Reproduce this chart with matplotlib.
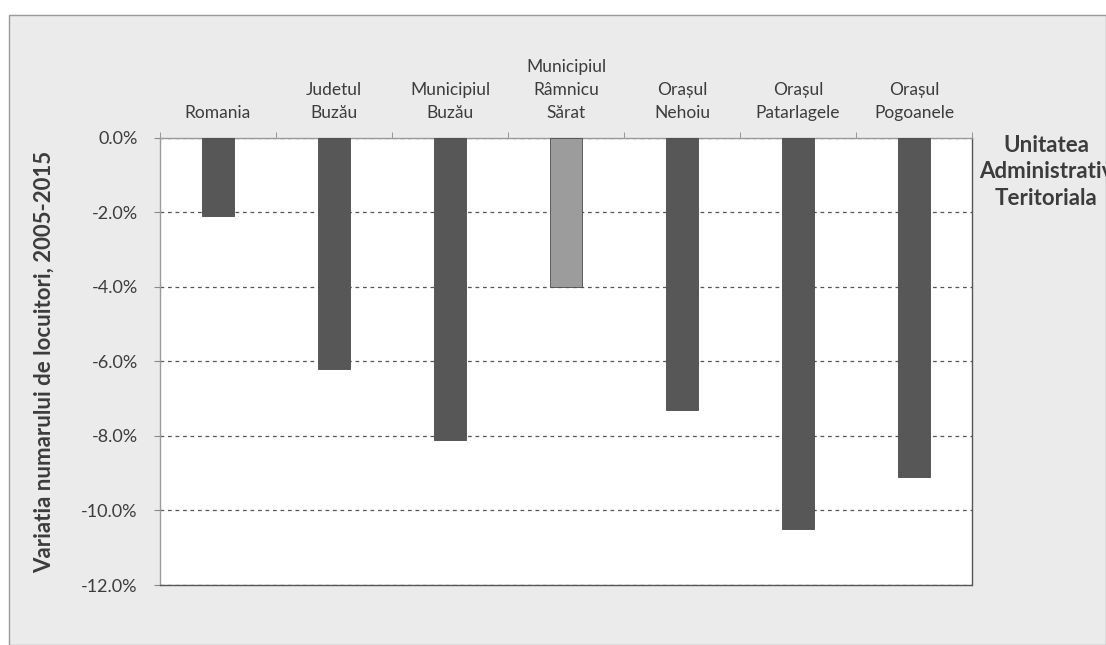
import matplotlib
matplotlib.use("Agg")
import matplotlib.pyplot as plt
from matplotlib.patches import Rectangle
from matplotlib.ticker import FixedLocator, FuncFormatter

categories = ["Romania", "Judetul\nBuzău", "Municipiul\nBuzău", "Municipiul\nRâmnicu\nSărat",
              "Orașul\nNehoiu", "Orașul\nPatarlagele", "Orașul\nPogoanele"]
values = [-2.1, -6.2, -8.1, -4.0, -7.3, -10.5, -9.1]
bar_colors = ["#575757", "#575757", "#575757", "#9c9c9c", "#575757", "#575757", "#575757"]
yticks = [0, -2, -4, -6, -8, -10, -12]

plt.rcParams['font.family'] = ['Lato', 'DejaVu Sans']

fig = plt.figure(figsize=(11.06, 6.45), dpi=100)
fig.patch.set_facecolor("white")
# chart area background (scanned gray)
W, H = 1106, 645
fig.patches.append(Rectangle((9 / W, 0), 1 - 9 / W, 1 - 15 / H, transform=fig.transFigure,
                             facecolor="#ebebeb", edgecolor="#9a9a9a", linewidth=1.0, zorder=-10))

ax = fig.add_axes([160 / W, 1 - 585 / H, (972 - 160) / W, (585 - 138) / H])
ax.set_facecolor("white")

x = list(range(len(categories)))
ax.bar(x, values, width=0.27, color=bar_colors, edgecolor="#4a4a4a", linewidth=0.6, zorder=3)

ax.set_xlim(-0.5, len(categories) - 0.5)
ax.set_ylim(-12, 0)

ax.xaxis.tick_top()
ax.set_xticks(x)
ax.set_xticklabels(categories, fontsize=12.5, color="#3c3c3c", linespacing=1.55)
ax.tick_params(axis='x', which='major', length=0, pad=12)
ax.xaxis.set_minor_locator(FixedLocator([i + 0.5 for i in range(-1, len(categories))]))
ax.tick_params(axis='x', which='minor', length=4, color="#8a8a8a", top=True, bottom=False)

ax.set_yticks(yticks)
ax.yaxis.set_major_formatter(FuncFormatter(lambda v, p: f"{v:.1f}%"))
ax.tick_params(axis='y', length=4, color="#8a8a8a", labelsize=13, labelcolor="#3c3c3c", pad=12)

ax.grid(axis='y', linestyle=(0, (3, 3)), color="#555555", linewidth=0.9, zorder=0)
ax.set_axisbelow(True)

for s in ["left", "right", "top"]:
    ax.spines[s].set_color("#9a9a9a")
    ax.spines[s].set_linewidth(1.0)
ax.spines["bottom"].set_color("#555555")
ax.spines["bottom"].set_linewidth(1.0)
ax.spines["bottom"].set_linestyle((0, (4, 1)))
ax.spines["right"].set_linestyle((0, (4, 1)))
ax.spines["right"].set_color("#555555")

ax.set_ylabel("Variatia numarului de locuitori, 2005-2015", fontsize=16, fontweight="bold",
              color="#3c3c3c")
ax.yaxis.set_label_coords(-(160 - 55) / (972 - 160), 0.5)

fig.text(1046 / W, 1 - 172 / H, "Unitatea\nAdministrativ\nTeritoriala", ha="center", va="center",
         fontsize=16, fontweight="bold", color="#3c3c3c", linespacing=1.3)

fig.savefig("out.png", dpi=100)
